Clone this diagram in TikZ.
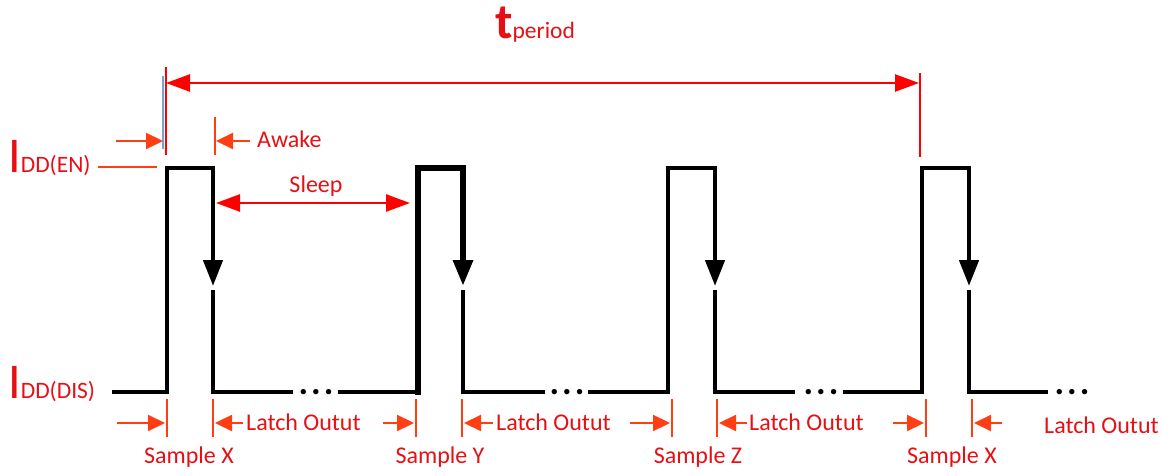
\documentclass[tikz,border=0pt]{standalone}
\usepackage{fontspec}
\setmainfont{Carlito}
\usetikzlibrary{arrows.meta}
\definecolor{txtred}{RGB}{230,16,20}
\definecolor{arrred}{RGB}{255,0,0}
\definecolor{orred}{RGB}{255,62,20}
\definecolor{tickblue}{RGB}{130,160,205}
\begin{document}
\begin{tikzpicture}[x=1pt,y=-1pt,
  sig/.style={line width=4.5pt,black,line join=miter},
  sigthick/.style={line width=6pt,black,line join=miter},
  sigarr/.style={-{Triangle[length=26pt,width=19pt]}},
  lbl/.style={text=txtred,font=\fontsize{24}{27}\selectfont,inner sep=0pt},
  biglbl/.style={text=txtred,inner sep=0pt},
  dots/.style={inner sep=0pt,font=\fontsize{36}{36}\selectfont\bfseries},
  tickline/.style={orred,line width=2pt},
  redtick/.style={arrred,line width=2pt},
  dimarr/.style={orred,line width=2.2pt,-{Triangle[length=17pt,width=16pt]}},
  perarr/.style={arrred,line width=2.5pt,{Triangle[length=24pt,width=17pt]}-{Triangle[length=24pt,width=17pt]}}
]
\useasboundingbox (0,0) rectangle (1169,476);

% ---------- signal ----------
% pulse 1
\coordinate (s0) at (112,392);
\draw[sig,sigarr] (s0) -- (167,392) -- (167,168) -- (213,168) -- (213,286);
\draw[sig] (213,290) -- (213,392) -- (293,392);
\node[dots,anchor=base] (d1) at (316,394) {.\kern3pt.\kern3pt.};
% pulse 2
\draw[sig] (338,392) -- (416,392);
\draw[sigthick,sigarr] (415,392) -- (418,392) -- (418,168) -- (463,168) -- (463,286);
\draw[sig] (463,290) -- (463,392) -- (545,392);
\node[dots,anchor=base] (d2) at (567,394) {.\kern3pt.\kern3pt.};
% pulse 3
\draw[sig,sigarr] (588,392) -- (668,392) -- (668,168) -- (715,168) -- (715,286);
\draw[sig] (715,290) -- (715,392) -- (795,392);
\node[dots,anchor=base] (d3) at (821,394) {.\kern3pt.\kern3pt.};
% pulse 4
\draw[sig,sigarr] (843,392) -- (922,392) -- (922,168) -- (969,168) -- (969,286);
\draw[sig] (969,290) -- (969,392) -- (1048,392);
\node[dots,anchor=base] (d4) at (1072,394) {.\kern3pt.\kern3pt.};

% ---------- t period ----------
\node[biglbl,anchor=base west] (tp) at (495,39)
  {{\fontsize{50}{52}\selectfont\bfseries t}{\fontsize{23.5}{26}\selectfont period}};
\draw[tickblue,line width=1.8pt] (163,76) -- (163,149);
\coordinate (pl1) at (166,67); \coordinate (pl2) at (166,155);
\coordinate (pr1) at (920,73); \coordinate (pr2) at (920,157);
\draw[redtick] (pl1) -- (pl2);
\draw[redtick] (pr1) -- (pr2);
\coordinate (pa1) at (166,83); \coordinate (pa2) at (919,83);
\draw[perarr] (pa1) -- (pa2);

% ---------- I_DD labels ----------
\node[biglbl,anchor=base west] (ien) at (8,172)
  {{\fontsize{50}{52}\selectfont I}{\fontsize{23.5}{26}\selectfont DD(EN)}};
\coordinate (en1) at (98,167); \coordinate (en2) at (157,167);
\draw[tickline] (en1) -- (en2);
\node[biglbl,anchor=base west] (idis) at (8,398)
  {{\fontsize{50}{52}\selectfont I}{\fontsize{23.5}{26}\selectfont DD(DIS)}};

% ---------- Awake ----------
\coordinate (aw1) at (215,117); \coordinate (aw2) at (215,155);
\draw[tickline] (aw1) -- (aw2);
\coordinate (awa) at (116,141); \coordinate (awb) at (163,141);
\draw[dimarr] (awa) -- (awb);
\coordinate (awc) at (250,141); \coordinate (awd) at (216,141);
\draw[dimarr] (awc) -- (awd);
\node[lbl,anchor=base west] (awake) at (257,147) {Awake};

% ---------- Sleep ----------
\coordinate (sl1) at (216,203); \coordinate (sl2) at (410,203);
\draw[perarr] (sl1) -- (sl2);
\node[lbl,anchor=base] (sleep) at (316,192) {Sleep};

% ---------- bottom ticks ----------
\foreach \x/\n in {167/t1,213/t2,416/t3,462/t4,672/t5,717/t6,926/t7,972/t8}{
  \coordinate (\n a) at (\x,399); \coordinate (\n b) at (\x,437);
  \draw[tickline] (\n a) -- (\n b);
}
% arrows
\foreach \a/\b/\n in {117/165/r1,383/414/r2,630/670/r3,893/924/r4,
                      243/215/l1,493/464/l2,747/719/l3,1002/974/l4}{
  \coordinate (\n s) at (\a,423); \coordinate (\n e) at (\b,423);
  \draw[dimarr] (\n s) -- (\n e);
}
\node[lbl,anchor=base west] (lo1) at (246,430) {Latch Outut};
\node[lbl,anchor=base west] (lo2) at (496,430) {Latch Outut};
\node[lbl,anchor=base west] (lo3) at (749,430) {Latch Outut};
\node[lbl,anchor=base west] (lo4) at (1044,433) {Latch Outut};

\node[lbl,anchor=base] (sx1) at (189,463) {Sample X};
\node[lbl,anchor=base] (sy) at (440,463) {Sample Y};
\node[lbl,anchor=base] (sz) at (698,463) {Sample Z};
\node[lbl,anchor=base] (sx2) at (952,463) {Sample X};
\end{tikzpicture}
\end{document}
